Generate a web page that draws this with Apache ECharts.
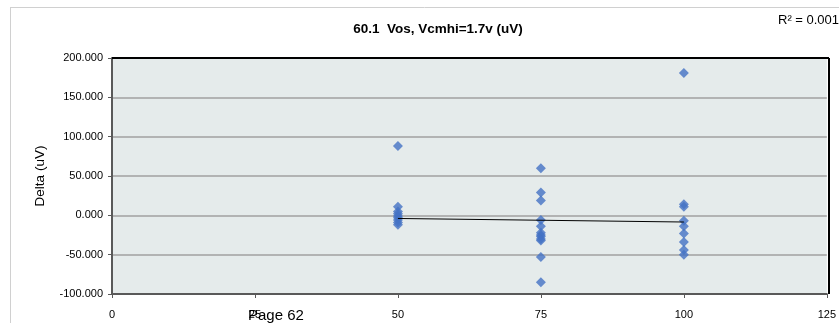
<!DOCTYPE html>
<html><head><meta charset="utf-8">
<script src="https://cdn.jsdelivr.net/npm/echarts@6/dist/echarts.min.js"></script>
<style>html,body{margin:0;padding:0;background:#fff}#c{width:839px;height:323px}</style>
</head><body><div id="c"></div>
<script>
const titleText = "60.1  Vos, Vcmhi=1.7v (uV)";
const yAxisName = "Delta (uV)";
const xTicks = [0, 25, 50, 75, 100, 125];
const yTicks = [-100, -50, 0, 50, 100, 150, 200];
const x50 = [88, 11, 5, 2, -1, -3, -6, -9, -12];
const x75 = [60, 29, 19, -6, -14, -22, -25, -27, -30, -32, -53, -85];
const x100 = [181, 14, 11, -7, -14, -23, -34, -44, -50];
const trendX = [50, 100];
const trendY = [-4, -8.5];
const rSquared = "R\u00B2 = 0.001";
const footer = "Page 62";

const pts = [];
x50.forEach(v => pts.push([50, v]));
x75.forEach(v => pts.push([75, v]));
x100.forEach(v => pts.push([100, v]));

const chart = echarts.init(document.getElementById('c'));
const font = "'Liberation Sans', Arial, sans-serif";
chart.setOption({
  animation: false,
  title: {
    text: titleText, left: 433, top: 17, textAlign: 'center',
    textStyle: {fontFamily: font, fontSize: 13.5, fontWeight: 'bold', color: '#000'}
  },
  grid: {left: 112, right: 10, top: 58, bottom: 29, show: true, backgroundColor: '#E5EBEB', borderWidth: 0},
  xAxis: {
    type: 'value', min: xTicks[0], max: xTicks[xTicks.length-1], interval: 25,
    axisLine: {show: true, onZero: false, lineStyle: {color: '#595959', width: 2}},
    axisTick: {show: true, length: 4, lineStyle: {color: '#595959'}},
    axisLabel: {margin: 15, fontFamily: font, fontSize: 11, color: '#000'},
    splitLine: {show: false}
  },
  yAxis: {
    type: 'value', min: yTicks[0], max: yTicks[yTicks.length-1], interval: 50,
    name: yAxisName, nameLocation: 'middle', nameGap: 65,
    nameTextStyle: {fontFamily: font, fontSize: 13.5, color: '#000'},
    axisLine: {show: true, onZero: false, lineStyle: {color: '#595959', width: 2}},
    axisTick: {show: true, length: 4, lineStyle: {color: '#595959'}},
    axisLabel: {margin: 9, fontFamily: font, fontSize: 11, color: '#000', formatter: v => v.toFixed(3)},
    splitLine: {show: true, lineStyle: {color: '#A0A0A0', width: 1.5}}
  },
  series: [
    {type: 'scatter', data: pts, symbol: 'diamond', symbolSize: 10, itemStyle: {color: '#4472C4'}, z: 3},
    {type: 'line', data: trendX.map((x, i) => [x, trendY[i]]), symbol: 'none', lineStyle: {color: '#000', width: 1}, z: 4}
  ],
  graphic: [
    {type: 'line', shape: {x1: 10, y1: 7.5, x2: 839, y2: 7.5}, style: {stroke: '#D0D0D0', lineWidth: 1}},
    {type: 'line', shape: {x1: 10.5, y1: 7, x2: 10.5, y2: 323}, style: {stroke: '#D0D0D0', lineWidth: 1}},
    {type: 'line', shape: {x1: 112, y1: 58, x2: 829, y2: 58}, style: {stroke: '#000', lineWidth: 2}, z: 10},
    {type: 'line', shape: {x1: 829, y1: 58, x2: 829, y2: 294}, style: {stroke: '#000', lineWidth: 2}, z: 10},
    {type: 'text', left: 778, top: 14, style: {text: rSquared, font: "13px 'Liberation Sans', Arial", fill: '#000'}},
    {type: 'text', left: 248, top: 308, style: {text: footer, font: "15px 'Liberation Sans', Arial", fill: '#000'}}
  ]
});
</script></body></html>
